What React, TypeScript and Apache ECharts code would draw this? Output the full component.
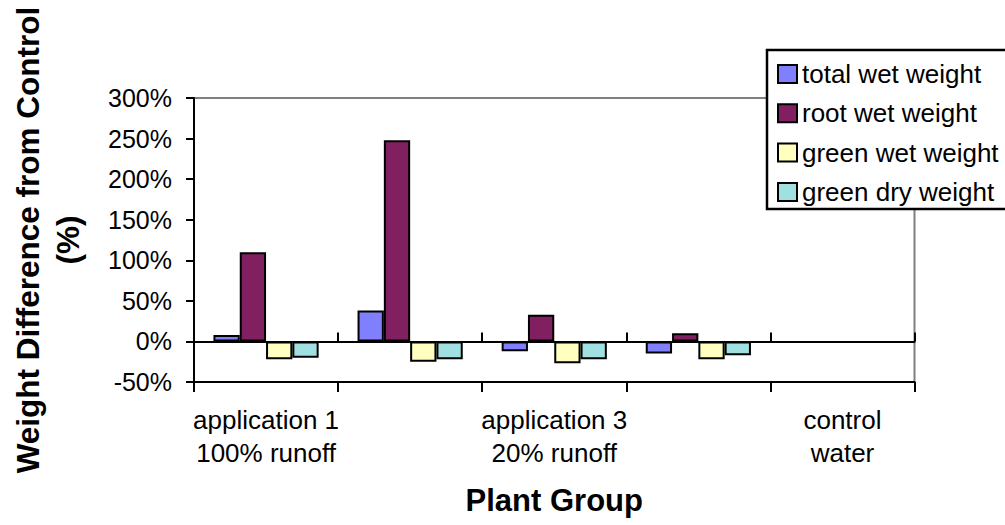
import React, { useEffect, useRef } from "react";
import * as echarts from "echarts";

const categories = [
  "application 1\n100% runoff",
  "application 2",
  "application 3\n20% runoff",
  "application 4",
  "control\nwater",
];
const seriesNames = ["total wet weight", "root wet weight", "green wet weight", "green dry weight"];
const totalWet = [8, 38, -12, -15, 0];
const rootWet = [110, 248, 33, 10, 0];
const greenWet = [-22, -25, -27, -22, 0];
const greenDry = [-20, -22, -22, -17, 0];
const seriesColors = ["#8080FF", "#802060", "#FFFFC0", "#A0E0E0"];
const yMin = -50;
const yMax = 300;
const yStep = 50;

const FONT = "'Liberation Sans', Arial, sans-serif";

export default function App() {
  const ref = useRef<HTMLDivElement>(null);
  useEffect(() => {
    document.body.style.margin = "0";
    const chart = echarts.init(ref.current!, null, { renderer: "svg" });
    const values = [totalWet, rootWet, greenWet, greenDry];
    const baseX = {
      type: "category" as const,
      data: categories,
      boundaryGap: true,
    };
    chart.setOption({
      animation: false,
      backgroundColor: "#fff",
      textStyle: { fontFamily: FONT },
      grid: {
        left: 189,
        right: 90.5,
        top: 98,
        bottom: 143,
        show: true,
        borderColor: "#808080",
        borderWidth: 2,
        containLabel: false,
      },
      legend: {
        data: seriesNames,
        orient: "vertical",
        left: 777,
        top: 61,
        padding: 0,
        itemWidth: 19,
        itemHeight: 18,
        itemGap: 13.3,
        icon: "rect",
        z: 101,
        itemStyle: { borderColor: "#000", borderWidth: 2 },
        textStyle: { fontSize: 26, lineHeight: 26, color: "#000", fontFamily: FONT },
      },
      graphic: [
        {
          type: "rect",
          z: 100,
          shape: { x: 767, y: 50, width: 260, height: 159 },
          style: { fill: "#fff", stroke: "#000", lineWidth: 2.5 },
        },
      ],
      xAxis: [
        {
          ...baseX,
          position: "bottom",
          axisLine: { show: false, onZero: false },
          axisTick: { show: false },
          axisLabel: {
            interval: 1,
            fontSize: 26,
            lineHeight: 33,
            margin: 21,
            color: "#000",
            fontFamily: FONT,
          },
          name: "Plant Group",
          nameLocation: "middle",
          nameGap: 103,
          nameTextStyle: { fontSize: 31, fontWeight: "bold", color: "#000", fontFamily: FONT },
        },
        {
          ...baseX,
          position: "top",
          z: 5,
          axisLine: { show: true, onZero: true, lineStyle: { color: "#000", width: 2 } },
          axisTick: { show: true, interval: 0, length: 9, lineStyle: { color: "#000", width: 2 } },
          axisLabel: { show: false },
        },
        {
          ...baseX,
          position: "bottom",
          z: 5,
          axisLine: { show: true, onZero: true, lineStyle: { color: "#000", width: 2 } },
          axisTick: { show: true, interval: 0, length: 10, lineStyle: { color: "#000", width: 2 } },
          axisLabel: { show: false },
        },
      ],
      yAxis: {
        type: "value",
        min: yMin,
        max: yMax,
        interval: yStep,
        z: 5,
        axisLine: { show: true, lineStyle: { color: "#000", width: 2 } },
        axisTick: { show: true, length: 8, lineStyle: { color: "#000", width: 2 } },
        splitLine: { show: false },
        axisLabel: {
          formatter: "{value}%",
          fontSize: 25,
          margin: 22,
          color: "#000",
          fontFamily: FONT,
        },
        name: "Weight Difference from Control\n(%)",
        nameLocation: "middle",
        nameRotate: 90,
        nameGap: 106,
        nameTextStyle: {
          fontSize: 31.5,
          fontWeight: "bold",
          lineHeight: 40,
          color: "#000",
          fontFamily: FONT,
          align: "center",
        },
      },
      series: seriesNames.map((name, i) => ({
        name,
        type: "bar",
        xAxisIndex: 0,
        z: 1,
        data: values[i].map((v) =>
          v === 0 ? { value: v, itemStyle: { borderWidth: 0, opacity: 0 } } : v
        ),
        barGap: "0%",
        barCategoryGap: "27%",
        itemStyle: { color: seriesColors[i], borderColor: "#000", borderWidth: 2 },
      })),
    });
    return () => chart.dispose();
  }, []);
  return <div ref={ref} style={{ width: 1005, height: 525 }} />;
}
